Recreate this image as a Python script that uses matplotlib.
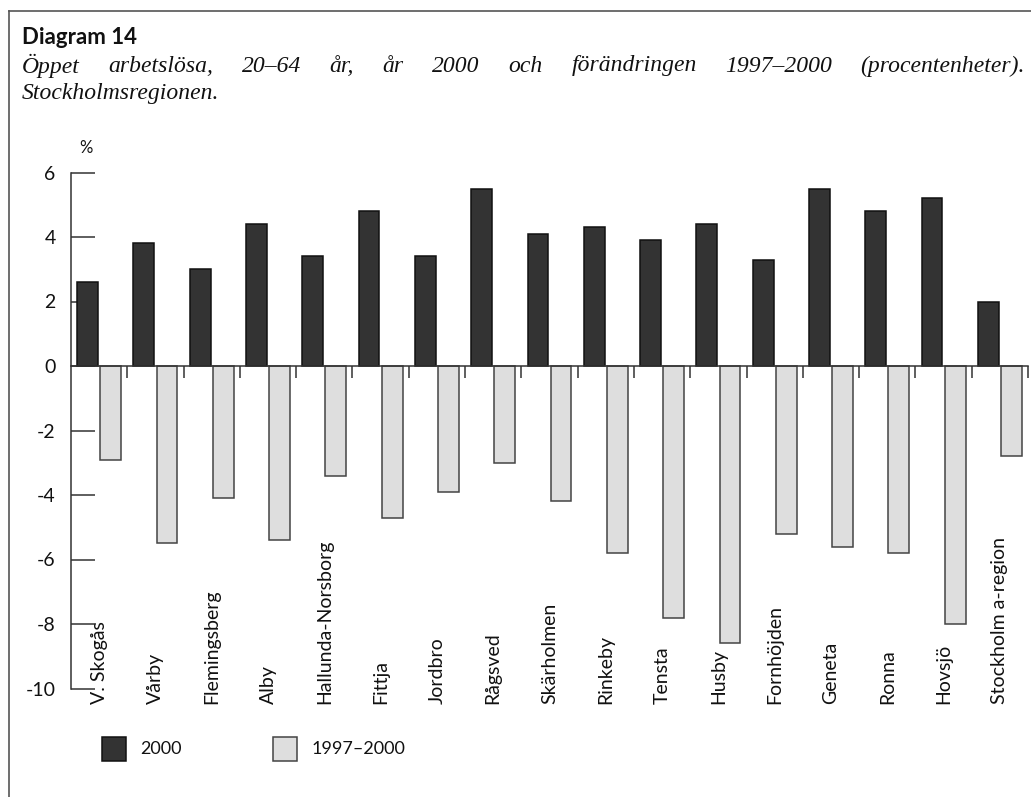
import matplotlib
matplotlib.use("Agg")
import matplotlib.pyplot as plt
from matplotlib.patches import Rectangle
from matplotlib.lines import Line2D
import matplotlib.transforms as mtransforms
import numpy as np

# ---------------- data ----------------
categories = ["V. Skogås", "Vårby", "Flemingsberg", "Alby", "Hallunda-Norsborg",
              "Fittja", "Jordbro", "Rågsved", "Skärholmen", "Rinkeby", "Tensta",
              "Husby", "Fornhöjden", "Geneta", "Ronna", "Hovsjö", "Stockholm a-region"]
values_2000 = [2.6, 3.8, 3.0, 4.4, 3.4, 4.8, 3.4, 5.5, 4.1, 4.3, 3.9, 4.4, 3.3, 5.5, 4.8, 5.2, 2.0]
change_1997_2000 = [-2.9, -5.5, -4.1, -5.4, -3.4, -4.7, -3.9, -3.0, -4.2, -5.8, -7.8, -8.6,
                    -5.2, -5.6, -5.8, -8.0, -2.8]
yticks = [-10, -8, -6, -4, -2, 0, 2, 4, 6]
ytick_labels = ["-10", "-8", "-6", "-4", "-2", "0", "2", "4", "6"]
series_labels = ["2000", "1997–2000"]
title = "Diagram 14"
subtitle_words = ["Öppet", "arbetslösa,", "20–64", "år,", "år", "2000", "och",
                  "förändringen", "1997–2000", "(procentenheter)."]
subtitle_line2 = "Stockholmsregionen."
unit_label = "%"

# ---------------- style ----------------
W, H = 1031, 797
DARK = "#333333"
LIGHT = "#dedede"
LINEC = "#333333"
SANS = ["Lato", "DejaVu Sans"]
SERIF = ["Liberation Serif", "DejaVu Serif"]

def fx(px):
    return px / W

def fy(py):
    return 1 - py / H

fig = plt.figure(figsize=(W / 100, H / 100), dpi=100)
fig.patch.set_facecolor("white")

# frame lines (left and top edge of box)
fig.add_artist(Line2D([fx(9), fx(9)], [fy(11), 0], color="#555555", lw=1.2))
fig.add_artist(Line2D([fx(9), 1], [fy(11), fy(11)], color="#555555", lw=1.2))

# axes
ax_left, ax_right = 71, 1028
ax_top, ax_bottom = 172.5, 688.5
ax = fig.add_axes([fx(ax_left), fy(ax_bottom), fx(ax_right - ax_left), (ax_bottom - ax_top) / H])

n = len(categories)
x = np.arange(n)
bw = 0.37
off = 0.205
ax.bar(x - off, values_2000, width=bw, color=DARK, edgecolor="#111111", linewidth=1.1, zorder=3)
ax.bar(x + off, change_1997_2000, width=bw, color=LIGHT, edgecolor="#444444", linewidth=1.1, zorder=3)

ax.set_xlim(-0.5, n - 0.5)
ax.set_ylim(-10, 6)

for s in ["top", "right"]:
    ax.spines[s].set_visible(False)
ax.spines["bottom"].set_position(("data", 0))
ax.spines["bottom"].set_zorder(4)
for s in ["left", "bottom"]:
    ax.spines[s].set_color(LINEC)
    ax.spines[s].set_linewidth(1.1)

ax.set_yticks(yticks)
ax.set_yticklabels(ytick_labels, family=SANS, fontsize=14, color="#111111")
ax.tick_params(axis="y", direction="in", length=17, width=1.1, color=LINEC, pad=11)

ax.set_xticks(np.arange(n) + 0.5)
ax.set_xticklabels([])
ax.tick_params(axis="x", direction="out", length=8.5, width=1.1, color=LINEC)

# category labels, rotated, anchored at the bottom
trans = mtransforms.blended_transform_factory(ax.transData, fig.transFigure)
for xi, lab in zip(x, categories):
    ax.text(xi, fy(704), lab, rotation=90, ha="center", va="bottom",
            transform=trans, family=SANS, fontsize=14, color="#111111")

# unit label
fig.text(fx(86), fy(148), unit_label, ha="center", va="center", family=SANS,
         fontsize=12, color="#111111")

# title
fig.text(fx(22), fy(38), title, ha="left", va="center", family=SANS,
         fontsize=16, fontweight="bold", color="#111111")

# justified subtitle, line 1
fig.canvas.draw()
renderer = fig.canvas.get_renderer()
word_texts = []
for w in subtitle_words:
    t = fig.text(0, fy(66), w, ha="left", va="center", family=SERIF, style="italic",
                 fontsize=17, color="#111111")
    word_texts.append(t)
widths = [t.get_window_extent(renderer).width for t in word_texts]
x_start, x_end = 22, 1025
gap = (x_end - x_start - sum(widths)) / (len(widths) - 1)
cur = x_start
for t, wdt in zip(word_texts, widths):
    t.set_x(fx(cur))
    cur += wdt + gap

fig.text(fx(22), fy(93), subtitle_line2, ha="left", va="center", family=SERIF,
         style="italic", fontsize=17, color="#111111")

# legend (manual)
for (sx, col, ec), lab, tx in zip([(102, DARK, "#111111"), (273, LIGHT, "#444444")],
                                  series_labels, [140, 312]):
    fig.add_artist(Rectangle((fx(sx), fy(761)), fx(24), 24 / H, facecolor=col,
                             edgecolor=ec, linewidth=1.1, transform=fig.transFigure))
    fig.text(fx(tx), fy(749), lab, ha="left", va="center", family=SANS,
             fontsize=13, color="#111111")

fig.savefig("out.png", dpi=100, facecolor="white")
